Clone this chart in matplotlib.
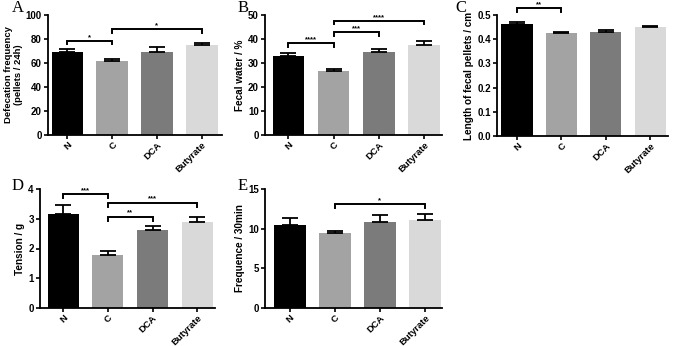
import matplotlib
matplotlib.use("Agg")
import matplotlib.pyplot as plt
import numpy as np

groups = ["N", "C", "DCA", "Butyrate"]
colors = ["#000000", "#a3a3a3", "#7b7b7b", "#d9d9d9"]

A_vals = [68.9, 61.6, 69.4, 74.6]
A_err = [2.8, 2.0, 3.7, 2.4]
B_vals = [33.1, 26.8, 34.5, 37.3]
B_err = [1.2, 0.8, 1.3, 1.8]
C_vals = [0.463, 0.427, 0.431, 0.452]
C_err = [0.009, 0.004, 0.008, 0.004]
D_vals = [3.15, 1.79, 2.63, 2.88]
D_err = [0.31, 0.13, 0.13, 0.19]
E_vals = [10.4, 9.4, 10.9, 11.05]
E_err = [0.9, 0.33, 0.85, 0.75]

W, H = 675, 346
fig = plt.figure(figsize=(W / 100, H / 100), dpi=100)
plt.rcParams['font.family'] = ['Liberation Sans', 'DejaVu Sans']

def make_ax(l, r, t, b):
    return fig.add_axes([l / W, (H - b) / H, (r - l) / W, (b - t) / H])

panels = [
    dict(letter="A", box=(48, 222, 15, 135), lp=(12, 8), vals=A_vals, err=A_err,
         ylim=(0, 100), ticks=[0, 20, 40, 60, 80, 100], fmt="{:.0f}",
         ylabel="Defecation frequency\n(pellets / 24h)", ylfs=6.8, xlim=(-0.43, 3.45),
         brackets=[(0, 1, 78.5, "*"), (1, 3, 88, "*")], tick_d=3.0),
    dict(letter="B", box=(265, 442, 15, 135), lp=(238, 8), vals=B_vals, err=B_err,
         ylim=(0, 50), ticks=[0, 10, 20, 30, 40, 50], fmt="{:.0f}",
         ylabel="Fecal water / %", ylfs=7.2, xlim=(-0.52, 3.4),
         brackets=[(0, 1, 38.2, "****"), (1, 2, 42.8, "***"), (1, 3, 47.6, "****")], tick_d=1.5),
    dict(letter="C", box=(497, 668, 15, 136), lp=(455, 8), vals=C_vals, err=C_err,
         ylim=(0, 0.5), ticks=[0, 0.1, 0.2, 0.3, 0.4, 0.5], fmt="{:.1f}",
         ylabel="Length of fecal pellets / cm", ylfs=7.2, xlim=(-0.45, 3.4),
         brackets=[(0, 1, 0.527, "**")], tick_d=0.015),
    dict(letter="D", box=(40, 215, 189, 308), lp=(12, 186), vals=D_vals, err=D_err,
         ylim=(0, 4), ticks=[0, 1, 2, 3, 4], fmt="{:.0f}",
         ylabel="Tension / g", ylfs=7.2, xlim=(-0.52, 3.4),
         brackets=[(0, 1, 3.83, "***"), (1, 2, 3.07, "**"), (1, 3, 3.54, "***")], tick_d=0.13),
    dict(letter="E", box=(265, 442, 189, 308), lp=(238, 186), vals=E_vals, err=E_err,
         ylim=(0, 15), ticks=[0, 5, 10, 15], fmt="{:.0f}",
         ylabel="Frequence / 30min", ylfs=7.2, xlim=(-0.55, 3.38),
         brackets=[(1, 3, 13.05, "*")], tick_d=0.5),
]

x = np.arange(len(groups))
for p in panels:
    l, r, t, b = p["box"]
    ax = make_ax(l, r, t, b)
    vals, err = p["vals"], p["err"]
    ax.bar(x, vals, width=0.7, color=colors, edgecolor="none", zorder=2)
    ax.errorbar(x, vals, yerr=[np.zeros(len(vals)), err], fmt="none", ecolor="black",
                elinewidth=1.3, capsize=6, capthick=1.3, zorder=3)
    ax.set_xlim(*p["xlim"])
    ax.set_ylim(*p["ylim"])
    ax.set_yticks(p["ticks"])
    ax.set_yticklabels([p["fmt"].format(v) for v in p["ticks"]], fontsize=7, fontweight="bold")
    ax.set_xticks(x)
    ax.set_xticklabels(groups, rotation=45, ha="right", rotation_mode="anchor",
                       fontsize=6.8, fontweight="bold")
    for s in ["top", "right"]:
        ax.spines[s].set_visible(False)
    for s in ["left", "bottom"]:
        ax.spines[s].set_linewidth(1.3)
    ax.tick_params(axis="both", direction="out", length=3, width=1.2, pad=1.5)
    ax.tick_params(axis="x", pad=1)
    ax.set_ylabel(p["ylabel"], fontsize=p["ylfs"], fontweight="bold", labelpad=2, linespacing=1.1)
    for (i, j, yb, star) in p["brackets"]:
        d = p["tick_d"]
        ax.plot([i, i, j, j], [yb - d, yb, yb, yb - d], color="black", lw=1.4,
                clip_on=False, zorder=4, solid_joinstyle="miter")
        ax.text((i + j) / 2, yb, star, ha="center", va="bottom", fontsize=5.5,
                fontweight="bold", clip_on=False)
    fig.text(p["lp"][0] / W, 1 - p["lp"][1] / H, p["letter"], fontsize=12,
             family=["Liberation Serif", "DejaVu Serif"], ha="left", va="center")

fig.savefig("out.png", dpi=100)
